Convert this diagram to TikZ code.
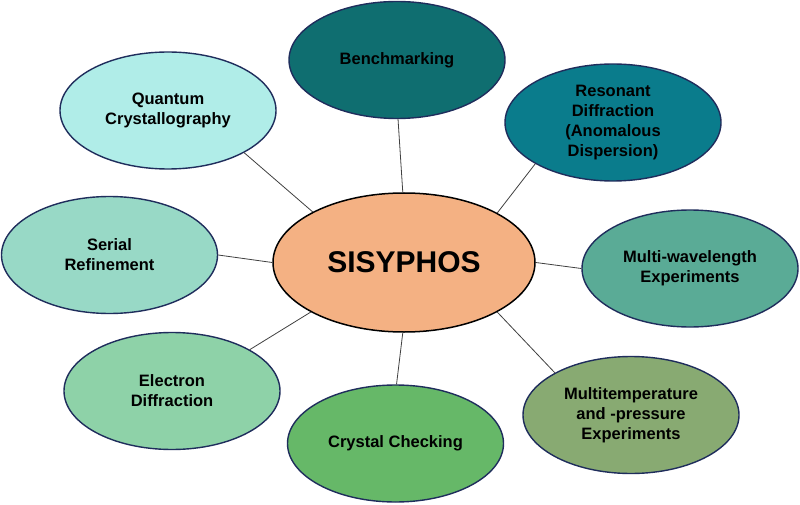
\documentclass[tikz,border=0pt]{standalone}
\usepackage{fontspec}
\setmainfont{Liberation Sans}
\usetikzlibrary{shapes.geometric}
\definecolor{edgenavy}{HTML}{1F2D5C}
\definecolor{linegray}{HTML}{404040}
\definecolor{cBench}{HTML}{0F6E70}
\definecolor{cReson}{HTML}{0A7C8C}
\definecolor{cQuant}{HTML}{B0EDE8}
\definecolor{cSerial}{HTML}{98D9C6}
\definecolor{cMultiW}{HTML}{5AAB96}
\definecolor{cElec}{HTML}{8ED2A8}
\definecolor{cCheck}{HTML}{66B868}
\definecolor{cTemp}{HTML}{88AA72}
\definecolor{cCenter}{HTML}{F4B183}
\tikzset{
  topic/.style={ellipse, draw=edgenavy, line width=1.4pt, minimum width=216pt, minimum height=117pt, inner sep=0pt, align=center, font=\fontsize{16.5}{20}\selectfont\bfseries},
  hub/.style={ellipse, draw=black, line width=1.5pt, fill=cCenter, minimum width=262pt, minimum height=139pt, inner sep=0pt, font=\fontsize{30}{34}\selectfont\bfseries},
  link/.style={draw=linegray, line width=0.8pt}
}
\begin{document}
\begin{tikzpicture}[x=1pt,y=-1pt]
\useasboundingbox[fill=white] (0,0) rectangle (800,505);
\node[hub] (C) at (404,262.5) {SISYPHOS};
\node[topic, fill=cBench] (B) at (397,60) {Benchmarking};
\node[topic, fill=cReson] (R) at (613,122.5) {Resonant\\Diffraction\\(Anomalous\\Dispersion)};
\node[topic, fill=cQuant] (Q) at (168,110.5) {Quantum\\Crystallography};
\node[topic, fill=cMultiW] (M) at (690,268.5) {Multi-wavelength\\Experiments};
\node[topic, fill=cSerial] (S) at (109.5,255) {Serial\\Refinement};
\node[topic, fill=cElec] (E) at (172,391) {Electron\\Diffraction};
\node[topic, fill=cCheck] (K) at (395.5,443.5) {Crystal Checking};
\node[topic, fill=cTemp] (T) at (631,415) {Multitemperature\\and -pressure\\Experiments};
\draw[link] (C.151) -- (Q.-29.5);
\draw[link] (C.91) -- (B.-89);
\draw[link] (C.28.5) -- (R.208.3);
\draw[link] (C.0) -- (M.180);
\draw[link] (C.-28.5) -- (T.151.4);
\draw[link] (C.-91) -- (K.89);
\draw[link] (C.208.3) -- (E.28.6);
\draw[link] (C.180) -- (S.0);
\end{tikzpicture}
\end{document}
